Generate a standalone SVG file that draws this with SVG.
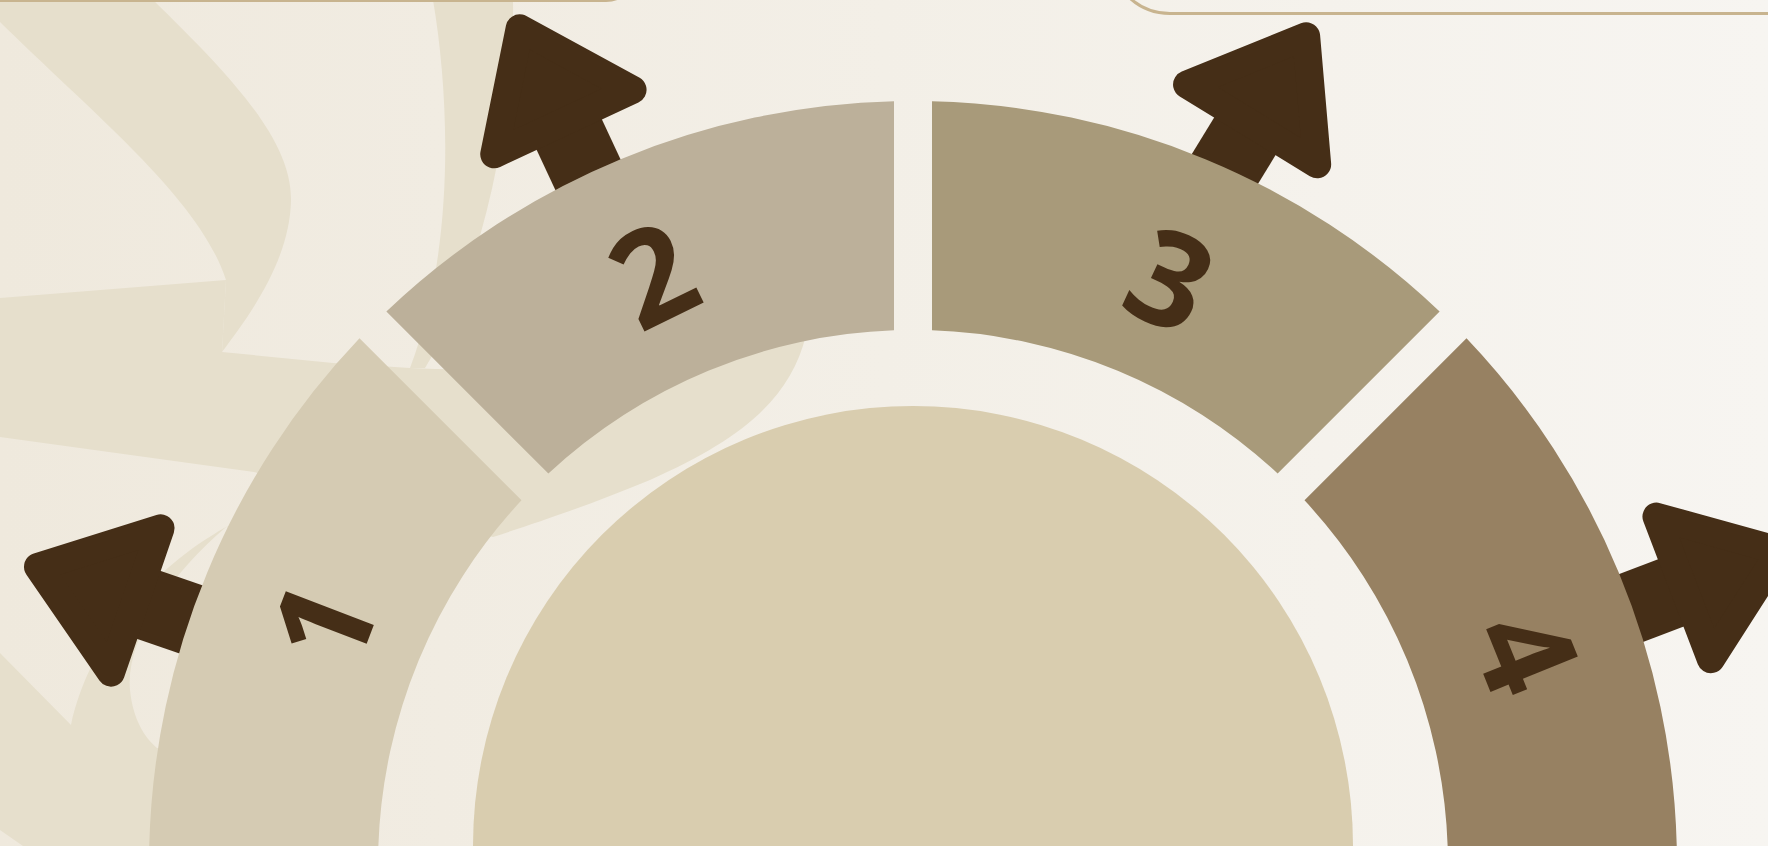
<svg xmlns="http://www.w3.org/2000/svg" width="1768" height="846" viewBox="0 0 1768 846">
<defs>
<linearGradient id="bg" gradientUnits="userSpaceOnUse" x1="0" y1="0" x2="1768" y2="0">
<stop offset="0" stop-color="#efe9dd"/>
<stop offset="1" stop-color="#f7f5f1"/>
</linearGradient>
<style>
.deco{fill:#e6dfcc}
.hole{fill:url(#bg)}
.frame{fill:none;stroke:#c8b48f;stroke-width:3}
.shaft{fill:#452e17}
.head{fill:#452e17;stroke:#452e17;stroke-width:28;stroke-linejoin:round}
.seg-label{font-family:"Open Sans","Liberation Sans",sans-serif;font-weight:700;font-size:132px;fill:#452e17;text-anchor:middle}
</style>
<g id="arrowShape">
<rect class="shaft" x="-120" y="-36" width="126" height="72"/>
<polygon class="head" points="14,-76.3 117.4,0 14,76.3"/>
</g>
</defs>

<rect x="0" y="0" width="1768" height="846" fill="url(#bg)"/>

<g id="background-decor">
<path class="deco" d="M0,0 L153,0 C230,75 292,140 291,200 C290,260 250,315 222,352 L226,280 C200,200 100,120 0,22 Z"/>
<path class="deco" d="M0,298 L226,280 L222,352 L333,363 L410,368 C550,375 700,350 806,335 C790,400 740,440 650,480 C590,505 530,525 493,537 L254,472 L0,437 Z"/>
<path class="deco" d="M433,0 L513,0 C515,120 480,280 425,368 L410,368 C455,250 450,100 433,0 Z"/>
<path class="deco" d="M0,653 L71,725 C90,640 150,570 226,527 L320,505 L330,846 L23,846 L0,830 Z"/>
<path class="hole" d="M226,527 C170,575 125,640 130,690 C133,720 145,738 157,748 L300,760 L300,540 Z"/>
<rect class="frame" x="-50" y="-200" width="686" height="200.5" rx="30"/>
<rect class="frame" x="1110" y="-300" width="760" height="313.5" rx="60"/>
</g>

<g id="connectors">
<use href="#arrowShape" transform="translate(149,605) rotate(-161)"/>
<use href="#arrowShape" transform="translate(569.3,134.7) rotate(-115)"/>
<use href="#arrowShape" transform="translate(1244.8,136.4) rotate(-58.5)"/>
<use href="#arrowShape" transform="translate(1670.6,592.9) rotate(-20.9)"/>
</g>

<g id="segment-1">
<path fill="#d5cbb3" d="M149.24,846 A764,764 0 0 1 359.50,338.37 L521.50,500.37 A535,535 0 0 0 378.34,846 Z"/>
<text class="seg-label" transform="translate(324,624) rotate(-69)" x="0" y="47">1</text>
</g>
<g id="segment-2">
<path fill="#bcb09a" d="M386.37,311.50 A764,764 0 0 1 894.00,101.24 L894.00,330.34 A535,535 0 0 0 548.37,473.50 Z"/>
<text class="seg-label" transform="translate(653,275) rotate(-26)" x="0" y="47">2</text>
</g>
<g id="segment-3">
<path fill="#a89a7a" d="M932.00,101.24 A764,764 0 0 1 1439.63,311.50 L1277.63,473.50 A535,535 0 0 0 932.00,330.34 Z"/>
<text class="seg-label" transform="translate(1170,280) rotate(25)" x="0" y="47">3</text>
</g>
<g id="segment-4">
<path fill="#978162" d="M1466.50,338.37 A764,764 0 0 1 1676.76,846 L1447.66,846 A535,535 0 0 0 1304.50,500.37 Z"/>
<text class="seg-label" transform="translate(1525,652) rotate(68)" x="0" y="47">4</text>
</g>
<g id="center-disc">
<circle cx="913" cy="846" r="440" fill="#d9cdaf"/>
</g>
</svg>
